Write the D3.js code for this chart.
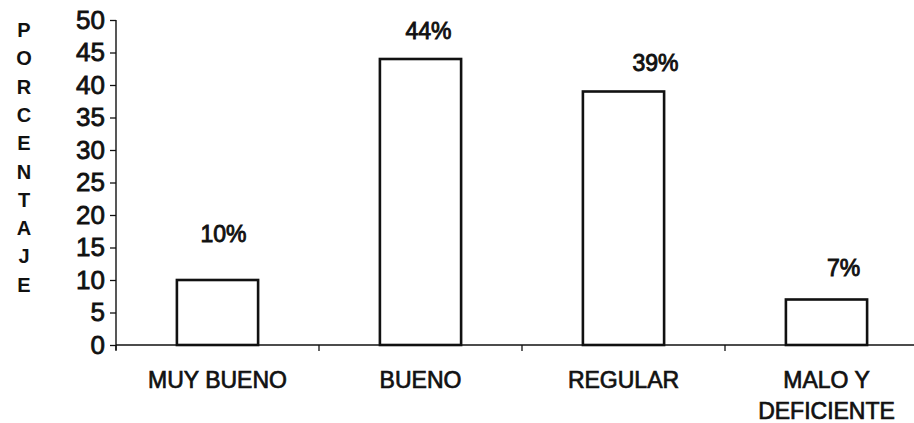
<!DOCTYPE html>
<html>
<head>
<meta charset="utf-8">
<script src="https://cdn.jsdelivr.net/npm/d3@7"></script>
<style>
  html, body { margin: 0; padding: 0; background: #fff; }
  svg { display: block; font-family: "Liberation Sans", Arial, sans-serif; }
</style>
</head>
<body>
<svg id="chart" width="914" height="423"></svg>
<script>
// Calificación y porcentaje de respuestas
const categories = [["MUY BUENO"], ["BUENO"], ["REGULAR"], ["MALO Y", "DEFICIENTE"]];
const values = [10, 44, 39, 7];
const valueLabels = ["10%", "44%", "39%", "7%"];
const yTicks = [0, 5, 10, 15, 20, 25, 30, 35, 40, 45, 50];
const axisTitle = "PORCENTAJE";

const svg = d3.select("#chart");
const ink = "#111";

const left = 116, zeroY = 345, topY = 20, bandW = 203;

const x = d3.scaleBand()
  .domain(d3.range(categories.length))
  .range([left, left + bandW * categories.length])
  .paddingInner(0.6).paddingOuter(0.3);

const y = d3.scaleLinear().domain([0, 50]).range([zeroY, topY]);

// Bars
svg.append("g").selectAll("rect")
  .data(values)
  .join("rect")
  .attr("x", (d, i) => x(i))
  .attr("y", d => y(d))
  .attr("width", x.bandwidth())
  .attr("height", d => y(0) - y(d))
  .attr("fill", "#fff")
  .attr("stroke", ink)
  .attr("stroke-width", 2.6);

// Y axis
const yAxis = svg.append("g")
  .attr("transform", `translate(${left},0)`)
  .call(d3.axisLeft(y).tickValues(yTicks).tickSize(6).tickPadding(5).tickSizeOuter(0));
yAxis.select(".domain").attr("stroke", ink).attr("stroke-width", 1.4)
  .attr("d", `M0,${topY}V${zeroY + 5}`);
yAxis.selectAll(".tick line").attr("stroke", ink).attr("stroke-width", 1.3);
yAxis.selectAll(".tick text")
  .attr("font-size", 26).attr("fill", ink)
  .attr("stroke", ink).attr("stroke-width", 0.8)
  .attr("font-family", "Liberation Sans, Arial, sans-serif");

// X axis line with ticks at category boundaries
const xg = svg.append("g");
xg.append("line")
  .attr("x1", left).attr("x2", 914)
  .attr("y1", zeroY).attr("y2", zeroY)
  .attr("stroke", ink).attr("stroke-width", 1.4);
xg.selectAll("line.b")
  .data(d3.range(categories.length))
  .join("line")
  .attr("class", "b")
  .attr("x1", i => left + i * x.step())
  .attr("x2", i => left + i * x.step())
  .attr("y1", zeroY).attr("y2", zeroY + 6)
  .attr("stroke", ink).attr("stroke-width", 1.3);

// Category labels
const catG = svg.append("g")
  .attr("font-size", 23).attr("fill", ink)
  .attr("stroke", ink).attr("stroke-width", 0.7)
  .attr("text-anchor", "middle");
categories.forEach((lines, i) => {
  const cx = x(i) + x.bandwidth() / 2;
  const t = catG.append("text").attr("x", cx).attr("y", 388);
  lines.forEach((s, k) => {
    t.append("tspan")
      .attr("x", cx)
      .attr("dy", k === 0 ? 0 : 31)
      .text(s);
  });
});

// Value labels (hand-placed offsets relative to each bar)
const labelNudge = [[6, -38], [8, -20], [32, -21], [17, -24]];
svg.append("g")
  .attr("font-size", 23).attr("fill", ink)
  .attr("stroke", ink).attr("stroke-width", 0.9)
  .attr("text-anchor", "middle")
  .selectAll("text")
  .data(values)
  .join("text")
  .attr("x", (d, i) => x(i) + x.bandwidth() / 2 + labelNudge[i][0])
  .attr("y", (d, i) => y(d) + labelNudge[i][1])
  .text((d, i) => valueLabels[i]);

// Vertical axis title, one letter per line
svg.append("g")
  .attr("font-size", 20).attr("font-weight", "bold").attr("fill", ink)
  .attr("text-anchor", "middle")
  .selectAll("text")
  .data(axisTitle.split(""))
  .join("text")
  .attr("x", 24)
  .attr("y", (d, i) => 37 + i * 28.3)
  .text(d => d);
</script>
</body>
</html>
